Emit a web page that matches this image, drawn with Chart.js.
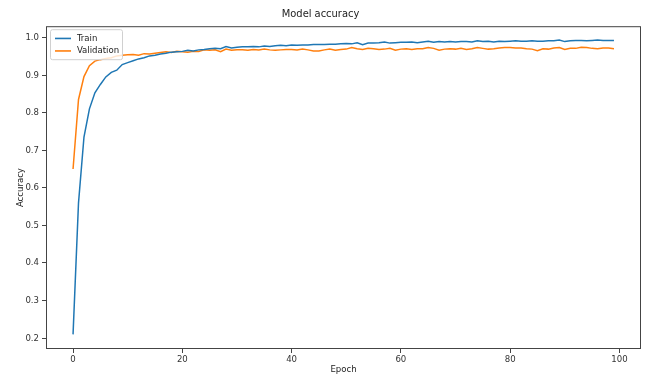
<!DOCTYPE html>
<html>
<head>
<meta charset="utf-8">
<script src="https://cdn.jsdelivr.net/npm/chart.js@4.4.1/dist/chart.umd.min.js"></script>
<style>
html,body{margin:0;padding:0;background:#fff;}
#wrap{width:648px;height:375px;position:relative;}
</style>
</head>
<body>
<div id="wrap"><canvas id="c" width="648" height="375"></canvas></div>
<script>
const epochs = Array.from({length: 100}, (_, i) => i);
const trainAcc = [
0.21,0.56,0.735,0.81,0.853,0.875,0.895,0.907,0.913,0.928,
0.933,0.938,0.943,0.946,0.951,0.953,0.956,0.958,0.961,0.962,
0.963,0.966,0.964,0.967,0.968,0.970,0.971,0.970,0.976,0.972,
0.974,0.975,0.975,0.976,0.975,0.977,0.976,0.978,0.979,0.978,
0.980,0.979,0.980,0.980,0.981,0.981,0.981,0.982,0.982,0.983,
0.984,0.983,0.986,0.981,0.985,0.985,0.986,0.988,0.985,0.986,
0.987,0.987,0.988,0.986,0.988,0.990,0.987,0.989,0.988,0.989,
0.988,0.989,0.989,0.988,0.991,0.989,0.990,0.988,0.990,0.989,
0.990,0.991,0.990,0.990,0.991,0.990,0.990,0.991,0.991,0.993,
0.989,0.991,0.992,0.992,0.991,0.992,0.993,0.992,0.992,0.992
];
const valAcc = [
0.65,0.835,0.896,0.925,0.937,0.941,0.944,0.946,0.951,0.953,
0.954,0.955,0.953,0.957,0.956,0.958,0.960,0.962,0.960,0.963,
0.962,0.961,0.963,0.963,0.967,0.966,0.967,0.962,0.969,0.966,
0.967,0.967,0.966,0.968,0.967,0.969,0.967,0.966,0.967,0.968,
0.968,0.967,0.969,0.967,0.964,0.964,0.967,0.969,0.966,0.968,
0.969,0.973,0.970,0.968,0.971,0.970,0.968,0.969,0.971,0.966,
0.969,0.970,0.968,0.970,0.970,0.973,0.971,0.966,0.969,0.970,
0.969,0.971,0.968,0.970,0.973,0.971,0.969,0.970,0.972,0.973,
0.973,0.972,0.972,0.970,0.969,0.965,0.970,0.969,0.972,0.973,
0.968,0.971,0.971,0.974,0.973,0.971,0.970,0.972,0.972,0.970
];
const xTicks = [0, 20, 40, 60, 80, 100];
const yTicks = [0.2, 0.3, 0.4, 0.5, 0.6, 0.7, 0.8, 0.9, 1.0];
const seriesNames = ['Train', 'Validation'];
const titleText = 'Model accuracy';
const xLabel = 'Epoch';
const yLabel = 'Accuracy';

const FONT = "'DejaVu Sans Condensed', 'DejaVu Sans', sans-serif";
const AX = '#444';

const framePlugin = {
  id: 'frame',
  afterDatasetsDraw(chart) {
    const {ctx, chartArea: a} = chart;
    ctx.save();
    ctx.strokeStyle = AX;
    ctx.lineWidth = 1;
    ctx.strokeRect(a.left + 0.5, a.top + 0.5, a.right - a.left - 1, a.bottom - a.top - 1);
    ctx.restore();
  },
  afterDraw(chart) {
    const {ctx, chartArea: a} = chart;
    const ds = chart.data.datasets;
    const x0 = a.left + 4, y0 = a.top + 3;
    const w = 72, rowH = 12.5, h = ds.length * rowH + 5;
    ctx.save();
    ctx.fillStyle = 'rgba(255,255,255,0.8)';
    ctx.strokeStyle = '#d0d0d0';
    ctx.lineWidth = 1;
    ctx.beginPath();
    if (ctx.roundRect) ctx.roundRect(x0 + 0.5, y0 + 0.5, w, h, 2); else ctx.rect(x0 + 0.5, y0 + 0.5, w, h);
    ctx.fill();
    ctx.stroke();
    ctx.font = "9.5px " + FONT;
    ctx.textBaseline = 'middle';
    ds.forEach((d, i) => {
      const cy = y0 + 3 + rowH * i + rowH / 2;
      ctx.strokeStyle = d.borderColor;
      ctx.lineWidth = 1.6;
      ctx.beginPath();
      ctx.moveTo(x0 + 5, cy);
      ctx.lineTo(x0 + 21, cy);
      ctx.stroke();
      ctx.fillStyle = '#222';
      ctx.fillText(d.label, x0 + 27, cy);
    });
    ctx.restore();
  }
};

new Chart(document.getElementById('c'), {
  type: 'line',
  data: {
    datasets: [
      {label: seriesNames[0], data: epochs.map((e, i) => ({x: e, y: trainAcc[i]})),
       borderColor: '#1f77b4', borderWidth: 1.5, pointRadius: 0, tension: 0, fill: false},
      {label: seriesNames[1], data: epochs.map((e, i) => ({x: e, y: valAcc[i]})),
       borderColor: '#ff7f0e', borderWidth: 1.5, pointRadius: 0, tension: 0, fill: false}
    ]
  },
  options: {
    responsive: false,
    animation: false,
    layout: {padding: {left: 0, right: 7, top: 0, bottom: 0}},
    plugins: {
      legend: {display: false},
      tooltip: {enabled: false},
      title: {display: true, text: titleText, color: '#222',
              font: {family: FONT, size: 11, weight: 'normal'}, padding: {top: 8, bottom: 5}}
    },
    scales: {
      x: {
        type: 'linear', min: -4.95, max: 103.95,
        afterBuildTicks(s) { s.ticks = xTicks.map(v => ({value: v})); },
        afterFit(s) { s.height = 26; },
        grid: {drawOnChartArea: false, drawTicks: true, tickLength: 4, tickColor: AX, color: AX},
        border: {display: false},
        ticks: {color: '#333', font: {family: FONT, size: 9.5}, padding: 1, maxRotation: 0,
                callback: v => String(v)},
        title: {display: true, text: xLabel, color: '#222', font: {family: FONT, size: 9.5}, padding: {top: 0, bottom: 0}}
      },
      y: {
        type: 'linear', min: 0.171, max: 1.03,
        afterBuildTicks(s) { s.ticks = yTicks.map(v => ({value: v})); },
        afterFit(s) { s.width = 46; },
        grid: {drawOnChartArea: false, drawTicks: true, tickLength: 4, tickColor: AX, color: AX},
        border: {display: false},
        ticks: {color: '#333', font: {family: FONT, size: 9.5}, padding: 3,
                callback: v => v.toFixed(1)},
        title: {display: true, text: yLabel, color: '#222', font: {family: FONT, size: 9.5}, padding: {top: 15, bottom: 0}}
      }
    }
  },
  plugins: [framePlugin]
});
</script>
</body>
</html>
